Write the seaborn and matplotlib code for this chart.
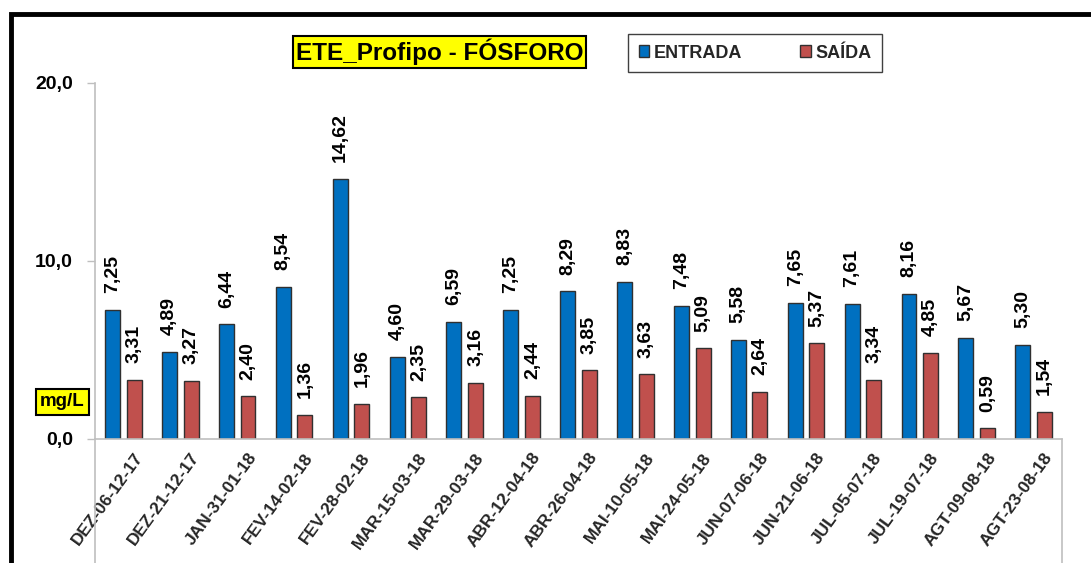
import matplotlib
matplotlib.use("Agg")
import matplotlib.pyplot as plt
import matplotlib.patches as mpatches
from matplotlib.lines import Line2D
import matplotlib.transforms as mtrans
import seaborn as sns
import pandas as pd

categories = ["DEZ-06-12-17", "DEZ-21-12-17", "JAN-31-01-18", "FEV-14-02-18",
              "FEV-28-02-18", "MAR-15-03-18", "MAR-29-03-18", "ABR-12-04-18",
              "ABR-26-04-18", "MAI-10-05-18", "MAI-24-05-18", "JUN-07-06-18",
              "JUN-21-06-18", "JUL-05-07-18", "JUL-19-07-18", "AGT-09-08-18",
              "AGT-23-08-18"]
entrada = [7.25, 4.89, 6.44, 8.54, 14.62, 4.60, 6.59, 7.25, 8.29, 8.83,
           7.48, 5.58, 7.65, 7.61, 8.16, 5.67, 5.30]
saida = [3.31, 3.27, 2.40, 1.36, 1.96, 2.35, 3.16, 2.44, 3.85, 3.63,
         5.09, 2.64, 5.37, 3.34, 4.85, 0.59, 1.54]
series_names = ["ENTRADA", "SAÍDA"]
yticks = [0, 10, 20]
ytick_labels = ["0,0", "10,0", "20,0"]
title_text = "ETE_Profipo - FÓSFORO"
unit_text = "mg/L"

colors = {"ENTRADA": "#0070C0", "SAÍDA": "#C0504D"}

df = pd.DataFrame({
    "data": categories * 2,
    "valor": entrada + saida,
    "serie": [series_names[0]] * len(categories) + [series_names[1]] * len(categories),
})

sns.set_style("white")
plt.rcParams["font.family"] = ["Liberation Sans", "DejaVu Sans"]
plt.rcParams["font.weight"] = "bold"

W, H = 1091, 563
fig = plt.figure(figsize=(W / 100, H / 100), dpi=100)
ax = fig.add_axes([95 / W, 1 - 439 / H, (1062 - 95) / W, (439 - 83) / H])

sns.barplot(data=df, x="data", y="valor", hue="serie", order=categories,
            hue_order=series_names, palette=colors, width=0.76, gap=0.31,
            saturation=1, edgecolor="#303030", linewidth=1.0, ax=ax,
            legend=False, errorbar=None)

ax.set_ylim(0, 20)
ax.set_xlim(-0.5, len(categories) - 0.5)
ax.set_yticks(yticks)
ax.set_yticklabels(ytick_labels, fontsize=14, fontweight="bold", color="black")
ax.set_xlabel("")
ax.set_ylabel("")

for s in ["top", "right"]:
    ax.spines[s].set_visible(False)
for s in ["left", "bottom"]:
    ax.spines[s].set_color("#BFBFBF")
    ax.spines[s].set_linewidth(1.2)

ax.tick_params(axis="y", which="major", direction="out", length=6, width=1,
               color="#BFBFBF", pad=10, left=True)
ax.tick_params(axis="x", length=0, pad=8)

ax.set_xticks(range(len(categories)))
ax.set_xticklabels(categories, rotation=54, ha="right", va="top",
                   rotation_mode="anchor", fontsize=12.5, fontweight="bold")
offset = mtrans.ScaledTranslation(10 / 100, 0, fig.dpi_scale_trans)
for lbl in ax.get_xticklabels():
    lbl.set_transform(lbl.get_transform() + offset)

# data labels
for container in ax.containers:
    ax.bar_label(container, labels=[f"{b.get_height():.2f}".replace(".", ",")
                                    for b in container],
                 rotation=90, padding=12, fontsize=14, fontweight="bold",
                 color="black")

# extend plot area borders below zero
fig.add_artist(Line2D([95 / W, 95 / W], [0, 1 - 439 / H], color="#BFBFBF",
                      lw=1.2, transform=fig.transFigure))
fig.add_artist(Line2D([1062 / W, 1062 / W], [0, 1 - 439 / H], color="#BFBFBF",
                      lw=1.2, transform=fig.transFigure))

# outer black frame
top = 1 - 14 / H
fig.add_artist(mpatches.Rectangle((11 / W, -0.05), 1.2, top + 0.05,
                                  transform=fig.transFigure, fill=False,
                                  edgecolor="black", lw=3.5))

# title box
fig.text(439.5 / W, 1 - 52 / H, title_text, ha="center", va="center",
         fontsize=17.5, fontweight="bold", color="black",
         bbox=dict(boxstyle="square,pad=0.1", facecolor="#FFFF00",
                   edgecolor="black", lw=1.5))

# unit box
fig.text(62 / W, 1 - 402 / H, unit_text, ha="center", va="center",
         fontsize=13.5, fontweight="bold", color="black",
         bbox=dict(boxstyle="square,pad=0.22", facecolor="#FFFF00",
                   edgecolor="black", lw=1.5))

# legend
handles = [mpatches.Patch(facecolor=colors[n], edgecolor="#303030", lw=1.0)
           for n in series_names]
leg = fig.legend(handles, series_names, loc="center",
                 bbox_to_anchor=(755 / W, 1 - 53 / H), ncol=2, frameon=True,
                 fancybox=False, edgecolor="#404040", framealpha=1,
                 prop={"weight": "bold", "size": 13}, handlelength=0.6,
                 handleheight=0.6, handletextpad=0.25, columnspacing=3.2,
                 borderpad=0.6, borderaxespad=0)
leg.get_frame().set_linewidth(1.0)
leg._legend_box.sep = 0

fig.savefig("out.png", dpi=100, facecolor="white")
